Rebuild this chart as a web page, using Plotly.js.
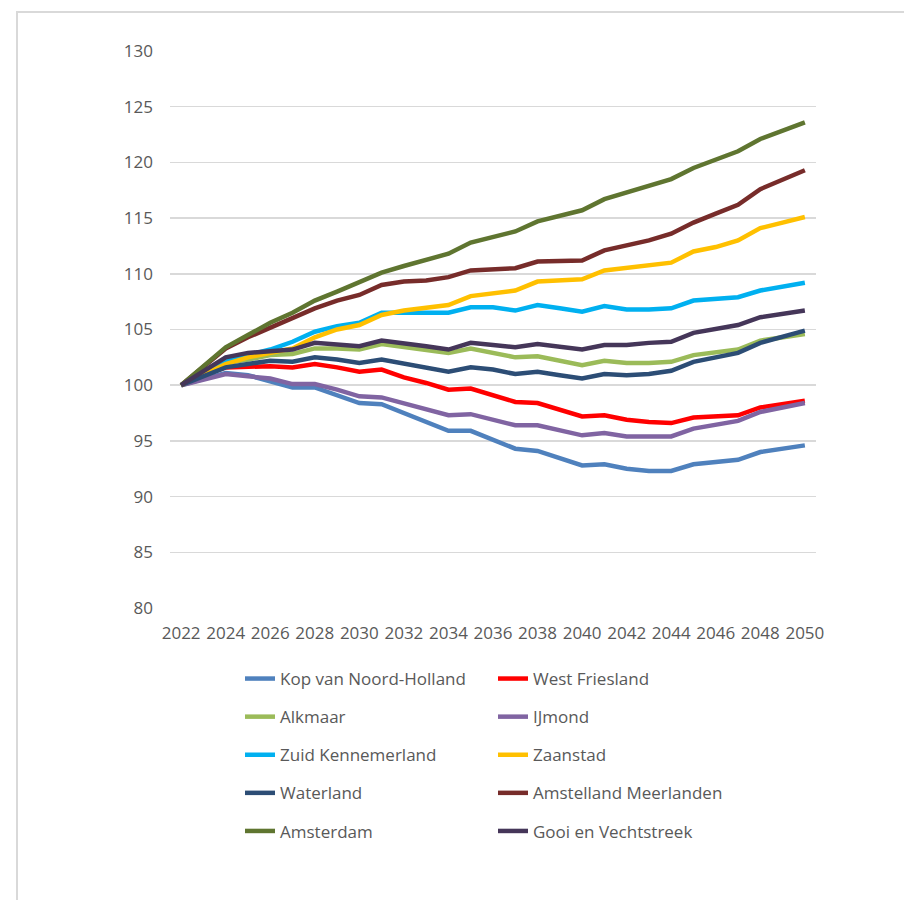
<!DOCTYPE html>
<html>
<head>
<meta charset="utf-8">
<script src="https://cdn.plot.ly/plotly-3.0.1.min.js"></script>
<style>
  html, body { margin: 0; padding: 0; background: #ffffff; }
  #wrap { position: relative; width: 904px; height: 900px; overflow: hidden; }
  #chart { width: 904px; height: 900px; }
  #frame { position: absolute; left: 16px; top: 11px; width: 1000px; height: 1000px;
           border: 2px solid #d9d9d9; box-sizing: border-box; pointer-events: none; }
</style>
</head>
<body>
<div id="wrap">
  <div id="chart"></div>
  <div id="frame"></div>
</div>
<script>
const years = ['2022','2023','2024','2025','2026','2027','2028','2029','2030','2031','2032','2033','2034','2035','2036','2037','2038','2039','2040','2041','2042','2043','2044','2045','2046','2047','2048','2049','2050'];
const tickYears = ['2022','2024','2026','2028','2030','2032','2034','2036','2038','2040','2042','2044','2046','2048','2050'];

const kopVanNoordHolland = [100, 100.6, 101.1, 100.9, 100.4, 99.8, 99.8, 99.1, 98.4, 98.3, 97.5, 96.7, 95.9, 95.9, 95.1, 94.3, 94.1, 93.5, 92.8, 92.9, 92.5, 92.3, 92.3, 92.9, 93.1, 93.3, 94.0, 94.3, 94.6];
const westFriesland = [100, 100.9, 101.6, 101.7, 101.7, 101.6, 101.9, 101.6, 101.2, 101.4, 100.7, 100.2, 99.6, 99.7, 99.1, 98.5, 98.4, 97.8, 97.2, 97.3, 96.9, 96.7, 96.6, 97.1, 97.2, 97.3, 98.0, 98.3, 98.6];
const alkmaar = [100, 101.0, 102.0, 102.3, 102.7, 102.8, 103.3, 103.3, 103.2, 103.7, 103.4, 103.2, 102.9, 103.3, 102.9, 102.5, 102.6, 102.2, 101.8, 102.2, 102.0, 102.0, 102.1, 102.7, 102.9, 103.2, 104.0, 104.3, 104.6];
const ijmond = [100, 100.5, 101.0, 100.8, 100.6, 100.1, 100.1, 99.6, 99.0, 98.9, 98.4, 97.8, 97.3, 97.4, 96.9, 96.4, 96.4, 96.0, 95.5, 95.7, 95.4, 95.4, 95.4, 96.1, 96.4, 96.8, 97.6, 98.0, 98.4];
const zuidKennemerland = [100, 101.0, 102.2, 102.7, 103.2, 103.9, 104.8, 105.3, 105.6, 106.5, 106.5, 106.5, 106.5, 107.0, 107.0, 106.7, 107.2, 106.9, 106.6, 107.1, 106.8, 106.8, 106.9, 107.6, 107.8, 107.9, 108.5, 108.8, 109.2];
const zaanstad = [100, 100.9, 101.9, 102.5, 102.9, 103.3, 104.3, 105.0, 105.4, 106.3, 106.7, 106.9, 107.2, 108.0, 108.3, 108.5, 109.3, 109.4, 109.5, 110.3, 110.5, 110.7, 111.0, 112.0, 112.4, 113.0, 114.1, 114.6, 115.1];
const waterland = [100, 100.8, 101.6, 101.9, 102.2, 102.1, 102.5, 102.3, 102.0, 102.3, 101.9, 101.6, 101.2, 101.6, 101.4, 101.0, 101.2, 100.9, 100.6, 101.0, 100.9, 101.0, 101.3, 102.1, 102.5, 102.9, 103.8, 104.3, 104.9];
const amstellandMeerlanden = [100, 101.6, 103.3, 104.3, 105.2, 106.0, 106.9, 107.6, 108.1, 109.0, 109.3, 109.4, 109.7, 110.3, 110.4, 110.5, 111.1, 111.1, 111.2, 112.1, 112.5, 113.0, 113.6, 114.6, 115.4, 116.2, 117.6, 118.4, 119.3];
const amsterdam = [100, 101.7, 103.4, 104.5, 105.6, 106.5, 107.6, 108.4, 109.2, 110.1, 110.7, 111.2, 111.8, 112.8, 113.3, 113.8, 114.7, 115.2, 115.7, 116.7, 117.3, 117.9, 118.5, 119.5, 120.2, 121.0, 122.1, 122.8, 123.6];
const gooiEnVechtstreek = [100, 101.3, 102.5, 102.9, 103.1, 103.2, 103.8, 103.7, 103.5, 104.0, 103.8, 103.5, 103.2, 103.8, 103.6, 103.4, 103.7, 103.5, 103.2, 103.6, 103.6, 103.8, 103.9, 104.7, 105.0, 105.4, 106.1, 106.4, 106.7];

const seriesNames = ['Kop van Noord-Holland','West Friesland','Alkmaar','IJmond','Zuid Kennemerland','Zaanstad','Waterland','Amstelland Meerlanden','Amsterdam','Gooi en Vechtstreek'];
const seriesValues = [kopVanNoordHolland, westFriesland, alkmaar, ijmond, zuidKennemerland, zaanstad, waterland, amstellandMeerlanden, amsterdam, gooiEnVechtstreek];
const seriesColors = ['#4F81BD','#FF0000','#9BBB59','#8064A2','#00B0F0','#FFC000','#2C4D75','#772C2A','#5F7530','#453659'];

const font = 'Open Sans, sans-serif';
const grey = '#595959';

const traces = seriesNames.map((name, i) => ({
  type: 'scatter',
  mode: 'lines',
  name: name,
  x: years,
  y: seriesValues[i],
  line: { color: seriesColors[i], width: 4.5 },
  legend: (i % 2 === 0) ? 'legend' : 'legend2',
  legendgroup: 'g' + i,
  hoverinfo: 'x+y+name'
}));

const legendCommon = {
  orientation: 'v',
  xref: 'container', yref: 'container',
  xanchor: 'left', yanchor: 'top',
  font: { family: font, size: 17, color: grey },
  bgcolor: 'rgba(0,0,0,0)',
  tracegroupgap: 13,
  borderwidth: 0
};

const layout = {
  width: 904, height: 900,
  margin: { l: 170, r: 88, t: 51, b: 292, autoexpand: false },
  paper_bgcolor: '#ffffff',
  plot_bgcolor: '#ffffff',
  showlegend: true,
  font: { family: font, color: grey, size: 17 },
  xaxis: {
    type: 'category',
    range: [-0.5, 28.5],
    tickmode: 'array',
    tickvals: tickYears,
    ticktext: tickYears,
    tickangle: 0,
    showgrid: false,
    zeroline: false,
    showline: false,
    ticks: '',
    ticklabelstandoff: 13,
    automargin: false,
    tickfont: { family: font, size: 17, color: grey }
  },
  yaxis: {
    range: [80, 130],
    dtick: 5,
    tick0: 80,
    showgrid: true,
    gridcolor: '#d9d9d9',
    gridwidth: 1.5,
    zeroline: false,
    showline: false,
    ticks: '',
    ticklabelstandoff: 16,
    automargin: false,
    tickfont: { family: font, size: 17, color: grey }
  },
  legend: Object.assign({}, legendCommon, { x: 240 / 904, y: 1 - 661 / 900 }),
  legend2: Object.assign({}, legendCommon, { x: 493 / 904, y: 1 - 661 / 900 })
};

Plotly.newPlot('chart', traces, layout, { displayModeBar: false, staticPlot: true });
</script>
</body>
</html>
